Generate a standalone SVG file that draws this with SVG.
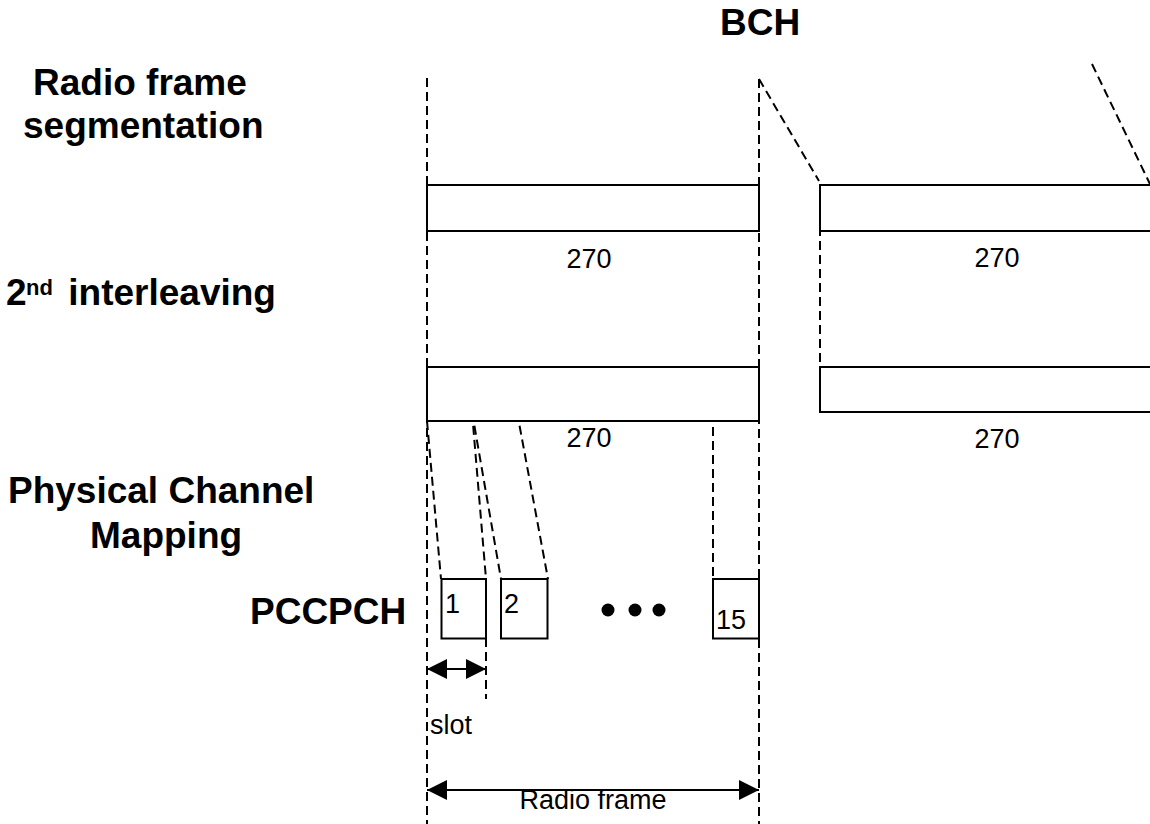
<svg xmlns="http://www.w3.org/2000/svg" width="1150" height="824" viewBox="0 0 1150 824">
<style>
.b{font-family:"Liberation Sans",Arial,sans-serif;font-weight:bold;font-size:37px;fill:#000}
.t{font-family:"Liberation Sans",Arial,sans-serif;font-size:27px;fill:#000}
.box{fill:#fff;stroke:#000;stroke-width:2}
.d{fill:none;stroke:#000;stroke-width:2;stroke-dasharray:9 5}
.a{fill:none;stroke:#000;stroke-width:2}
</style>
<defs>
<marker id="ah" viewBox="0 0 20 20" refX="20" refY="10" markerWidth="20" markerHeight="20" markerUnits="userSpaceOnUse" orient="auto-start-reverse">
<path d="M0,0 L20,10 L0,20 Z" fill="#000"/>
</marker>
</defs>
<rect width="1150" height="824" fill="#fff"/>
<g id="labels">
<text class="b" x="720" y="35">BCH</text>
<text class="b" x="33" y="95">Radio frame</text>
<text class="b" x="23" y="138">segmentation</text>
<text class="b" x="6" y="305">2<tspan x="26" y="295" font-size="22">nd</tspan><tspan x="58" y="305"> interleaving</tspan></text>
<text class="b" x="8" y="503">Physical Channel</text>
<text class="b" x="90" y="548">Mapping</text>
<text class="b" x="250" y="624">PCCPCH</text>
</g>
<g id="connectors">
<line class="d" x1="427" y1="78" x2="427" y2="824"/>
<line class="d" x1="759" y1="79" x2="759" y2="824"/>
<line class="d" x1="759" y1="79" x2="819" y2="181"/>
<line class="d" x1="1092" y1="64" x2="1150" y2="184"/>
<line class="d" x1="820" y1="185" x2="820" y2="367"/>
<line class="d" x1="427" y1="421" x2="441" y2="579"/>
<line class="d" x1="472" y1="412" x2="486" y2="579"/>
<line class="d" x1="472" y1="412" x2="501" y2="579"/>
<line class="d" x1="517" y1="412" x2="548" y2="579"/>
<line class="d" x1="713" y1="427" x2="713" y2="579"/>
<line class="d" x1="486" y1="638" x2="486" y2="699"/>
<line class="a" x1="427" y1="669" x2="486" y2="669" marker-start="url(#ah)" marker-end="url(#ah)"/>
<line class="a" x1="427" y1="790" x2="759" y2="790" marker-start="url(#ah)" marker-end="url(#ah)"/>
</g>
<g id="seg1">
<rect class="box" x="427" y="185" width="332" height="46"/>
<text class="t" x="589" y="268" text-anchor="middle">270</text>
</g>
<g id="seg2">
<path class="box" d="M1152,185 H820 V231 H1152"/>
<text class="t" x="997" y="267" text-anchor="middle">270</text>
</g>
<g id="il1">
<rect class="box" x="427" y="367" width="332" height="54"/>
<text class="t" x="589" y="447" text-anchor="middle">270</text>
</g>
<g id="il2">
<path class="box" d="M1152,367 H820 V412 H1152"/>
<text class="t" x="997" y="448" text-anchor="middle">270</text>
</g>
<g id="slot1">
<rect class="box" x="441.5" y="579" width="44.5" height="59.5"/>
<text class="t" x="445" y="613">1</text>
</g>
<g id="slot2">
<rect class="box" x="501" y="579" width="46.5" height="59.5"/>
<text class="t" x="504" y="613">2</text>
</g>
<g id="dots">
<circle cx="608" cy="610" r="6.5"/>
<circle cx="635" cy="610" r="6.5"/>
<circle cx="659" cy="610" r="6.5"/>
</g>
<g id="slot15">
<rect class="box" x="713" y="579" width="46" height="59.5"/>
<text class="t" x="716" y="629">15</text>
</g>
<g id="dim-labels">
<text class="t" x="430" y="734">slot</text>
<text class="t" x="593" y="809" text-anchor="middle">Radio frame</text>
</g>
</svg>
